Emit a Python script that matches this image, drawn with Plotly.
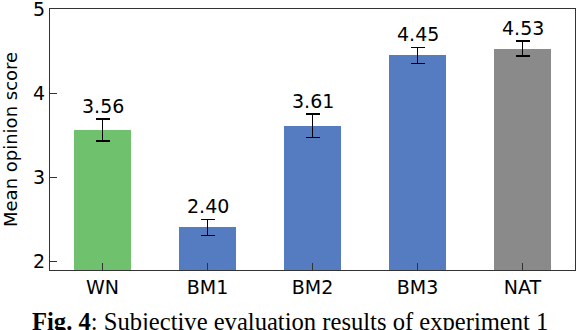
import plotly.graph_objects as go

categories = ["WN", "BM1", "BM2", "BM3", "NAT"]
scores = [3.56, 2.40, 3.61, 4.45, 4.53]
errors = [0.13, 0.095, 0.14, 0.095, 0.09]
labels = ["3.56", "2.40", "3.61", "4.45", "4.53"]
colors = ["#6fc16d", "#557cc1", "#557cc1", "#557cc1", "#8a8a8a"]

fig = go.Figure()
fig.add_trace(go.Bar(
    x=categories, y=scores, width=0.55,
    marker=dict(color=colors, line=dict(width=0)),
    error_y=dict(type="data", array=errors, color="black", thickness=1.4, width=7),
))
for c, s, e, t in zip(categories, scores, errors, labels):
    fig.add_annotation(x=c, y=s + e, text=t, showarrow=False, yanchor="bottom", yshift=0,
                       font=dict(family="DejaVu Sans", size=19, color="black"))

fig.add_annotation(xref="paper", yref="paper", x=0.457, y=-0.138, xanchor="center", yanchor="top",
                   text="<b>Fig. 4</b>: Subjective evaluation results of experiment 1",
                   showarrow=False, font=dict(family="Liberation Serif", size=24.6, color="black"))

fig.add_annotation(xref="paper", yref="paper", x=-27/525, y=0.5, xanchor="right", yanchor="middle",
                   text="Mean opinion score", textangle=-90, showarrow=False,
                   font=dict(family="DejaVu Sans", size=18, color="black"))

fig.update_layout(
    width=578, height=330,
    margin=dict(l=50, r=3, t=9, b=60, autoexpand=False),
    plot_bgcolor="white", paper_bgcolor="white",
    showlegend=False, bargap=0,
    font=dict(family="DejaVu Sans", size=19, color="black"),
)
fig.update_xaxes(range=[-0.5, 4.5], showline=True, linecolor="#333", linewidth=1.2, mirror=True,
                 ticks="inside", ticklen=7, tickcolor="#333", showgrid=False, automargin=False,
                 tickfont=dict(size=19))
fig.update_yaxes(range=[1.893, 5.001], showline=True, linecolor="#333", linewidth=1.2, mirror=True,
                 ticks="inside", ticklen=7, tickcolor="#333", showgrid=False, zeroline=False,
                 automargin=False, tickvals=[2, 3, 4, 5], tickfont=dict(size=19),
                 ticklabeloverflow="allow")

fig.write_html("out.html", config={"displayModeBar": False},
               post_script="document.body.style.margin='0';document.body.style.overflow='hidden';")
